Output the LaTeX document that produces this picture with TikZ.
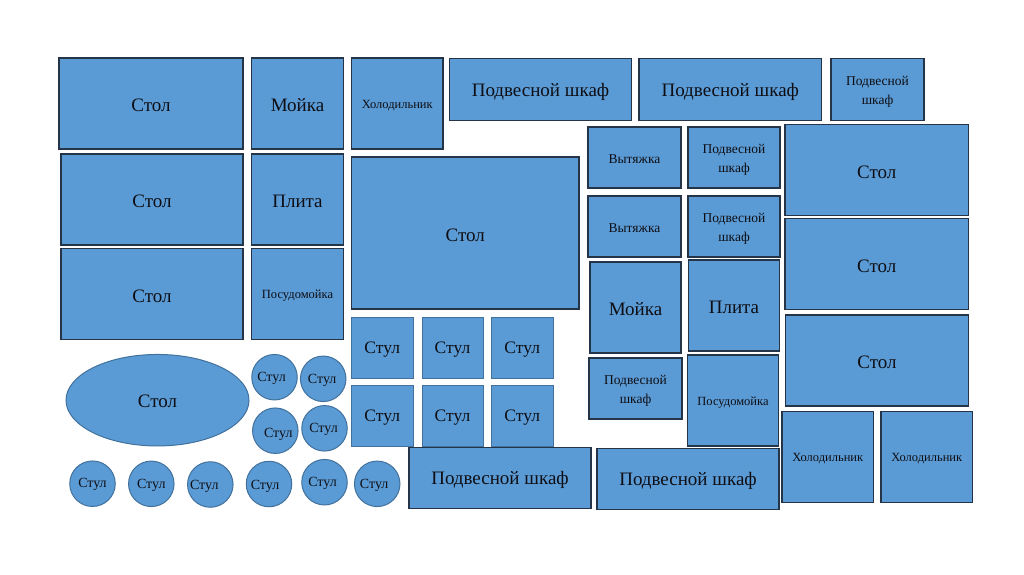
\documentclass[tikz,border=0pt]{standalone}
\usepackage{fontspec}
\setmainfont{Liberation Serif}
\usetikzlibrary{shapes.geometric}
\definecolor{fillblue}{HTML}{5B9BD5}
\definecolor{darkedge}{HTML}{263447}
\definecolor{softedge}{HTML}{41719C}
\definecolor{txt}{HTML}{0E0E14}
\tikzset{
  box/.style={draw=darkedge, fill=fillblue, line width=1.3pt, inner sep=0pt, outer sep=0pt},
  softbox/.style={draw=softedge, fill=fillblue, line width=1pt, inner sep=0pt, outer sep=0pt},
  chair/.style={circle, draw=softedge, fill=fillblue, line width=1pt, inner sep=0pt, outer sep=0pt, minimum size=45.5pt},
  lbl/.style={inner sep=0pt, align=center, text=txt, font=\rmfamily},
  big/.style={lbl, font=\rmfamily\fontsize{19}{22}\selectfont},
  mid/.style={lbl, font=\rmfamily\fontsize{17.5}{20}\selectfont},
  smalltwo/.style={lbl, font=\rmfamily\fontsize{13.5}{19}\selectfont},
  tiny/.style={lbl, font=\rmfamily\fontsize{12.5}{15}\selectfont},
  chairtxt/.style={lbl, font=\rmfamily\fontsize{14}{16}\selectfont},
}
% \bx{name}{x1}{y1}{x2}{y2}{style}{text}
\newcommand\bx[7]{%
  \node[box, minimum width={(#4)-(#2)}, minimum height={(#5)-(#3)}] (#1) at ({((#2)+(#4))/2},{((#3)+(#5))/2}) {};
  \node[#6] (#1-t) at ([yshift=-2pt]#1.center) {#7};}
\newcommand\sbx[7]{%
  \node[softbox, minimum width={(#4)-(#2)}, minimum height={(#5)-(#3)}] (#1) at ({((#2)+(#4))/2},{((#3)+(#5))/2}) {};
  \node[#6] (#1-t) at ([yshift=-2pt]#1.center) {#7};}
\begin{document}
\begin{tikzpicture}[x=1pt,y=-1pt]
\useasboundingbox (0,0) rectangle (1024,574);
\fill[white] (0,0) rectangle (1024,574);
% left block
\bx{s1}{59}{58}{243}{149}{big}{Стол}
\bx{moika1}{251.5}{58}{343.5}{149}{big}{Мойка}
\bx{hol1}{351.5}{58}{443}{149}{tiny}{Холодильник}
\bx{s2}{61}{154}{243}{245}{big}{Стол}
\bx{plita1}{251.5}{154}{343.5}{245}{big}{Плита}
\bx{s3}{61}{248.5}{243}{339.5}{big}{Стол}
\bx{posud1}{251.5}{248.5}{343.5}{339.5}{tiny}{Посудомойка}
\bx{sbig}{351.5}{157}{579}{309}{big}{Стол}
% top row
\bx{pv1}{449.5}{58.5}{631.5}{120.5}{big}{Подвесной шкаф}
\bx{pv2}{639}{58.5}{821.5}{120.5}{big}{Подвесной шкаф}
\bx{pv3}{831}{58.5}{924}{120.5}{smalltwo}{Подвесной\\шкаф}
% right block
\bx{vyt1}{588}{127}{681}{188}{smalltwo}{Вытяжка}
\bx{pv4}{688}{127}{780}{188}{smalltwo}{Подвесной\\шкаф}
\bx{sr1}{785}{124.5}{968.5}{215.5}{big}{Стол}
\bx{vyt2}{588}{196}{681}{257}{smalltwo}{Вытяжка}
\bx{pv5}{688}{196}{780}{257}{smalltwo}{Подвесной\\шкаф}
\bx{sr2}{785}{218.5}{968.5}{309.5}{big}{Стол}
\bx{moika2}{590}{262}{681}{353}{big}{Мойка}
\bx{plita2}{688.5}{260}{779.5}{351}{big}{Плита}
\bx{sr3}{785.5}{315}{968.5}{406}{big}{Стол}
\bx{pv6}{589}{358}{682}{419}{smalltwo}{Подвесной\\шкаф}
\bx{posud2}{687.5}{355}{778.5}{446}{tiny}{Посудомойка}
\bx{hol2}{782}{411.5}{873.5}{502.5}{tiny}{Холодильник}
\bx{hol3}{881}{411.5}{972.5}{502.5}{tiny}{Холодильник}
\bx{pv7}{409}{447.5}{591}{508.5}{big}{Подвесной шкаф}
\bx{pv8}{597}{448.5}{779}{509.5}{big}{Подвесной шкаф}
% chair squares
\sbx{q1}{351.5}{317.5}{413}{378.5}{mid}{Стул}
\sbx{q2}{422}{317.5}{483}{378.5}{mid}{Стул}
\sbx{q3}{491.5}{317.5}{553}{378.5}{mid}{Стул}
\sbx{q4}{351.5}{385}{413}{446}{mid}{Стул}
\sbx{q5}{422}{385}{483}{446}{mid}{Стул}
\sbx{q6}{491.5}{385}{553}{446}{mid}{Стул}
% oval table
\node[ellipse, draw=softedge, fill=fillblue, line width=1pt, inner sep=0pt, minimum width=183pt, minimum height=91.5pt] (oval) at (157.5,400.2) {};
\node[big] (oval-t) at ([yshift=-1pt]oval.center) {Стол};
% round chairs
\node[chair] (c1) at (274.5,377.2) {};
\node[chair] (c2) at (323.2,378.8) {};
\node[chair] (c3) at (275.3,430.7) {};
\node[chair] (c4) at (324.5,428.3) {};
\node[chair] (c5) at (92.5,483.7) {};
\node[chair] (c6) at (151.3,483.8) {};
\node[chair] (c7) at (210.3,484.5) {};
\node[chair] (c8) at (269,484) {};
\node[chair] (c9) at (324.5,482.2) {};
\node[chair] (c10) at (377.2,483.8) {};
\node[chairtxt] (t1) at ([xshift=-3pt,yshift=-1pt]c1.center) {Стул};
\node[chairtxt] (t2) at ([xshift=-1pt,yshift=-2pt]c2.center) {Стул};
\node[chairtxt] (t3) at ([xshift=3pt,yshift=-4pt]c3.center) {Стул};
\node[chairtxt] (t4) at ([xshift=-1pt,yshift=-1pt]c4.center) {Стул};
\node[chairtxt] (t5) at ([xshift=0pt,yshift=-1pt]c5.center) {Стул};
\node[chairtxt] (t6) at ([xshift=0pt,yshift=-2pt]c6.center) {Стул};
\node[chairtxt] (t7) at ([xshift=-6pt,yshift=-2pt]c7.center) {Стул};
\node[chairtxt] (t8) at ([xshift=-4pt,yshift=-2pt]c8.center) {Стул};
\node[chairtxt] (t9) at ([xshift=-2pt,yshift=-1pt]c9.center) {Стул};
\node[chairtxt] (t10) at ([xshift=-3pt,yshift=-2pt]c10.center) {Стул};
\end{tikzpicture}
\end{document}
